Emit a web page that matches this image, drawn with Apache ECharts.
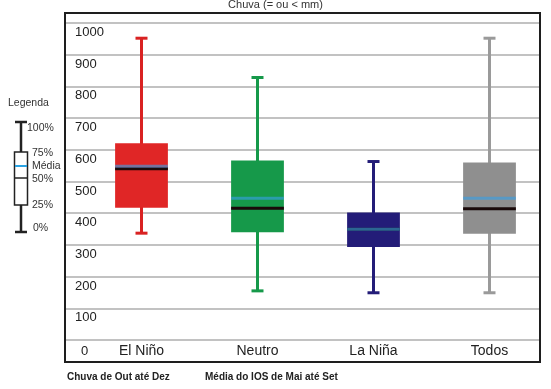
<!DOCTYPE html>
<html>
<head>
<meta charset="utf-8">
<script src="https://cdn.jsdelivr.net/npm/echarts@6/dist/echarts.min.js"></script>
<style>
html,body{margin:0;padding:0;background:#fff;}
#chart{width:551px;height:389px;}
</style>
</head>
<body>
<div id="chart"></div>
<script>
// ---- data ----
var categories = ['El Niño', 'Neutro', 'La Niña', 'Todos'];
var minVals    = [337, 155, 149, 149];
var q1Vals     = [417, 340, 293, 335];
var medianVals = [540, 416, 349, 414];
var q3Vals     = [621, 566, 402, 560];
var maxVals    = [952, 828, 563, 952];
var meanVals   = [548, 447, 349, 447];
var yTicks     = [0, 100, 200, 300, 400, 500, 600, 700, 800, 900, 1000];

var boxColors     = ['#e02626', '#16994a', '#231c78', '#8f8f8f'];
var whiskerColors = ['#d92222', '#16994a', '#231c78', '#9a9a9a'];

var FONT = 'Liberation Sans, Arial, sans-serif';

var chart = echarts.init(document.getElementById('chart'), null, {renderer: 'canvas'});

var seriesData = categories.map(function (c, i) {
  return [i, minVals[i], q1Vals[i], medianVals[i], q3Vals[i], maxVals[i], meanVals[i]];
});

function renderItem(params, api) {
  var i = api.value(0);
  var band = api.size([1, 0])[0];
  var boxW = band * 0.455;
  var capW = 12;
  var pMin = api.coord([i, api.value(1)]);
  var pQ1 = api.coord([i, api.value(2)]);
  var pMed = api.coord([i, api.value(3)]);
  var pQ3 = api.coord([i, api.value(4)]);
  var pMax = api.coord([i, api.value(5)]);
  var pMean = api.coord([i, api.value(6)]);
  var x = pMin[0];
  var wc = whiskerColors[i];
  var bc = boxColors[i];
  return {
    type: 'group',
    children: [
      {type: 'line', shape: {x1: x, y1: pMax[1], x2: x, y2: pMin[1]}, style: {stroke: wc, lineWidth: 3}},
      {type: 'line', shape: {x1: x - capW / 2, y1: pMax[1], x2: x + capW / 2, y2: pMax[1]}, style: {stroke: wc, lineWidth: 3}},
      {type: 'line', shape: {x1: x - capW / 2, y1: pMin[1], x2: x + capW / 2, y2: pMin[1]}, style: {stroke: wc, lineWidth: 3}},
      {type: 'rect', shape: {x: x - boxW / 2, y: pQ3[1], width: boxW, height: pQ1[1] - pQ3[1]}, style: {fill: bc, stroke: null}},
      {type: 'line', shape: {x1: x - boxW / 2, y1: pMed[1], x2: x + boxW / 2, y2: pMed[1]}, style: {stroke: '#1a0a0a', lineWidth: 3}},
      {type: 'line', shape: {x1: x - boxW / 2, y1: pMean[1], x2: x + boxW / 2, y2: pMean[1]}, style: {stroke: 'rgba(55,160,230,0.62)', lineWidth: 3}}
    ]
  };
}

var option = {
  backgroundColor: '#ffffff',
  animation: false,
  title: {
    text: 'Chuva (= ou < mm)',
    left: 'center',
    top: -1,
    padding: 0,
    textStyle: {fontSize: 11, fontWeight: 'normal', color: '#333', fontFamily: FONT}
  },
  grid: [
    {left: 65, right: 11, top: 23, bottom: 49},
    {left: 83.5, right: 3.5, top: 23, bottom: 49}
  ],
  xAxis: [
    {type: 'value', gridIndex: 0, show: false, min: 0, max: 1},
    {type: 'category', gridIndex: 1, data: categories, boundaryGap: true,
     axisLine: {show: false}, axisTick: {show: false}, splitLine: {show: false},
     axisLabel: {fontSize: 14, color: '#222', fontFamily: FONT, margin: 4}}
  ],
  yAxis: [
    {type: 'value', gridIndex: 0, min: 0, max: 1000, interval: 100,
     axisLine: {show: false}, axisTick: {show: false},
     splitLine: {show: true, lineStyle: {color: '#c2c2c2', width: 2}},
     axisLabel: {inside: true, margin: 10, align: 'left', verticalAlign: 'top',
       fontSize: 13, color: '#222', fontFamily: FONT, padding: [3, 0, 0, 0],
       showMaxLabel: true, showMinLabel: true,
       formatter: function (v) { return v === 0 ? '{z|0}' : String(v); },
       rich: {z: {fontSize: 13, color: '#222', fontFamily: FONT, padding: [2, 0, 0, 6]}}
     }},
    {type: 'value', gridIndex: 1, min: 0, max: 1000, show: false, splitLine: {show: false}}
  ],
  series: [{
    type: 'custom',
    xAxisIndex: 1,
    yAxisIndex: 1,
    renderItem: renderItem,
    encode: {x: 0, y: [1, 2, 3, 4, 5, 6]},
    data: seriesData,
    z: 5
  }],
  graphic: [
    {type: 'rect', shape: {x: 65, y: 13, width: 475, height: 349}, style: {fill: null, stroke: '#1e1e1e', lineWidth: 2}, z: 20, silent: true},
    {type: 'text', x: 67, y: 377, style: {text: 'Chuva de Out até Dez', fill: '#222', fontSize: 10, fontWeight: 'bold', fontFamily: FONT, textVerticalAlign: 'middle'}},
    {type: 'text', x: 205, y: 377, style: {text: 'Média do IOS de Mai até Set', fill: '#222', fontSize: 10, fontWeight: 'bold', fontFamily: FONT, textVerticalAlign: 'middle'}},
    // legend illustration
    {type: 'text', x: 8, y: 103, style: {text: 'Legenda', fill: '#333', fontSize: 10.5, fontFamily: FONT, textVerticalAlign: 'middle'}},
    {type: 'line', shape: {x1: 21, y1: 122, x2: 21, y2: 232}, style: {stroke: '#222', lineWidth: 2.5}},
    {type: 'line', shape: {x1: 15, y1: 122, x2: 27, y2: 122}, style: {stroke: '#222', lineWidth: 2.5}},
    {type: 'line', shape: {x1: 15, y1: 232, x2: 27, y2: 232}, style: {stroke: '#222', lineWidth: 2.5}},
    {type: 'rect', shape: {x: 14.5, y: 152, width: 13, height: 53}, style: {fill: '#fff', stroke: '#222', lineWidth: 1.5}},
    {type: 'line', shape: {x1: 15, y1: 166, x2: 27, y2: 166}, style: {stroke: '#2aa3e3', lineWidth: 2}},
    {type: 'line', shape: {x1: 15, y1: 178, x2: 27, y2: 178}, style: {stroke: '#222', lineWidth: 1.5}},
    {type: 'text', x: 27, y: 128, style: {text: '100%', fill: '#333', fontSize: 10.5, fontFamily: FONT, textVerticalAlign: 'middle'}},
    {type: 'text', x: 32, y: 153, style: {text: '75%', fill: '#333', fontSize: 10.5, fontFamily: FONT, textVerticalAlign: 'middle'}},
    {type: 'text', x: 32, y: 166, style: {text: 'Média', fill: '#333', fontSize: 10.5, fontFamily: FONT, textVerticalAlign: 'middle'}},
    {type: 'text', x: 32, y: 179, style: {text: '50%', fill: '#333', fontSize: 10.5, fontFamily: FONT, textVerticalAlign: 'middle'}},
    {type: 'text', x: 32, y: 205, style: {text: '25%', fill: '#333', fontSize: 10.5, fontFamily: FONT, textVerticalAlign: 'middle'}},
    {type: 'text', x: 33, y: 228, style: {text: '0%', fill: '#333', fontSize: 10.5, fontFamily: FONT, textVerticalAlign: 'middle'}}
  ]
};
chart.setOption(option);
</script>
</body>
</html>
